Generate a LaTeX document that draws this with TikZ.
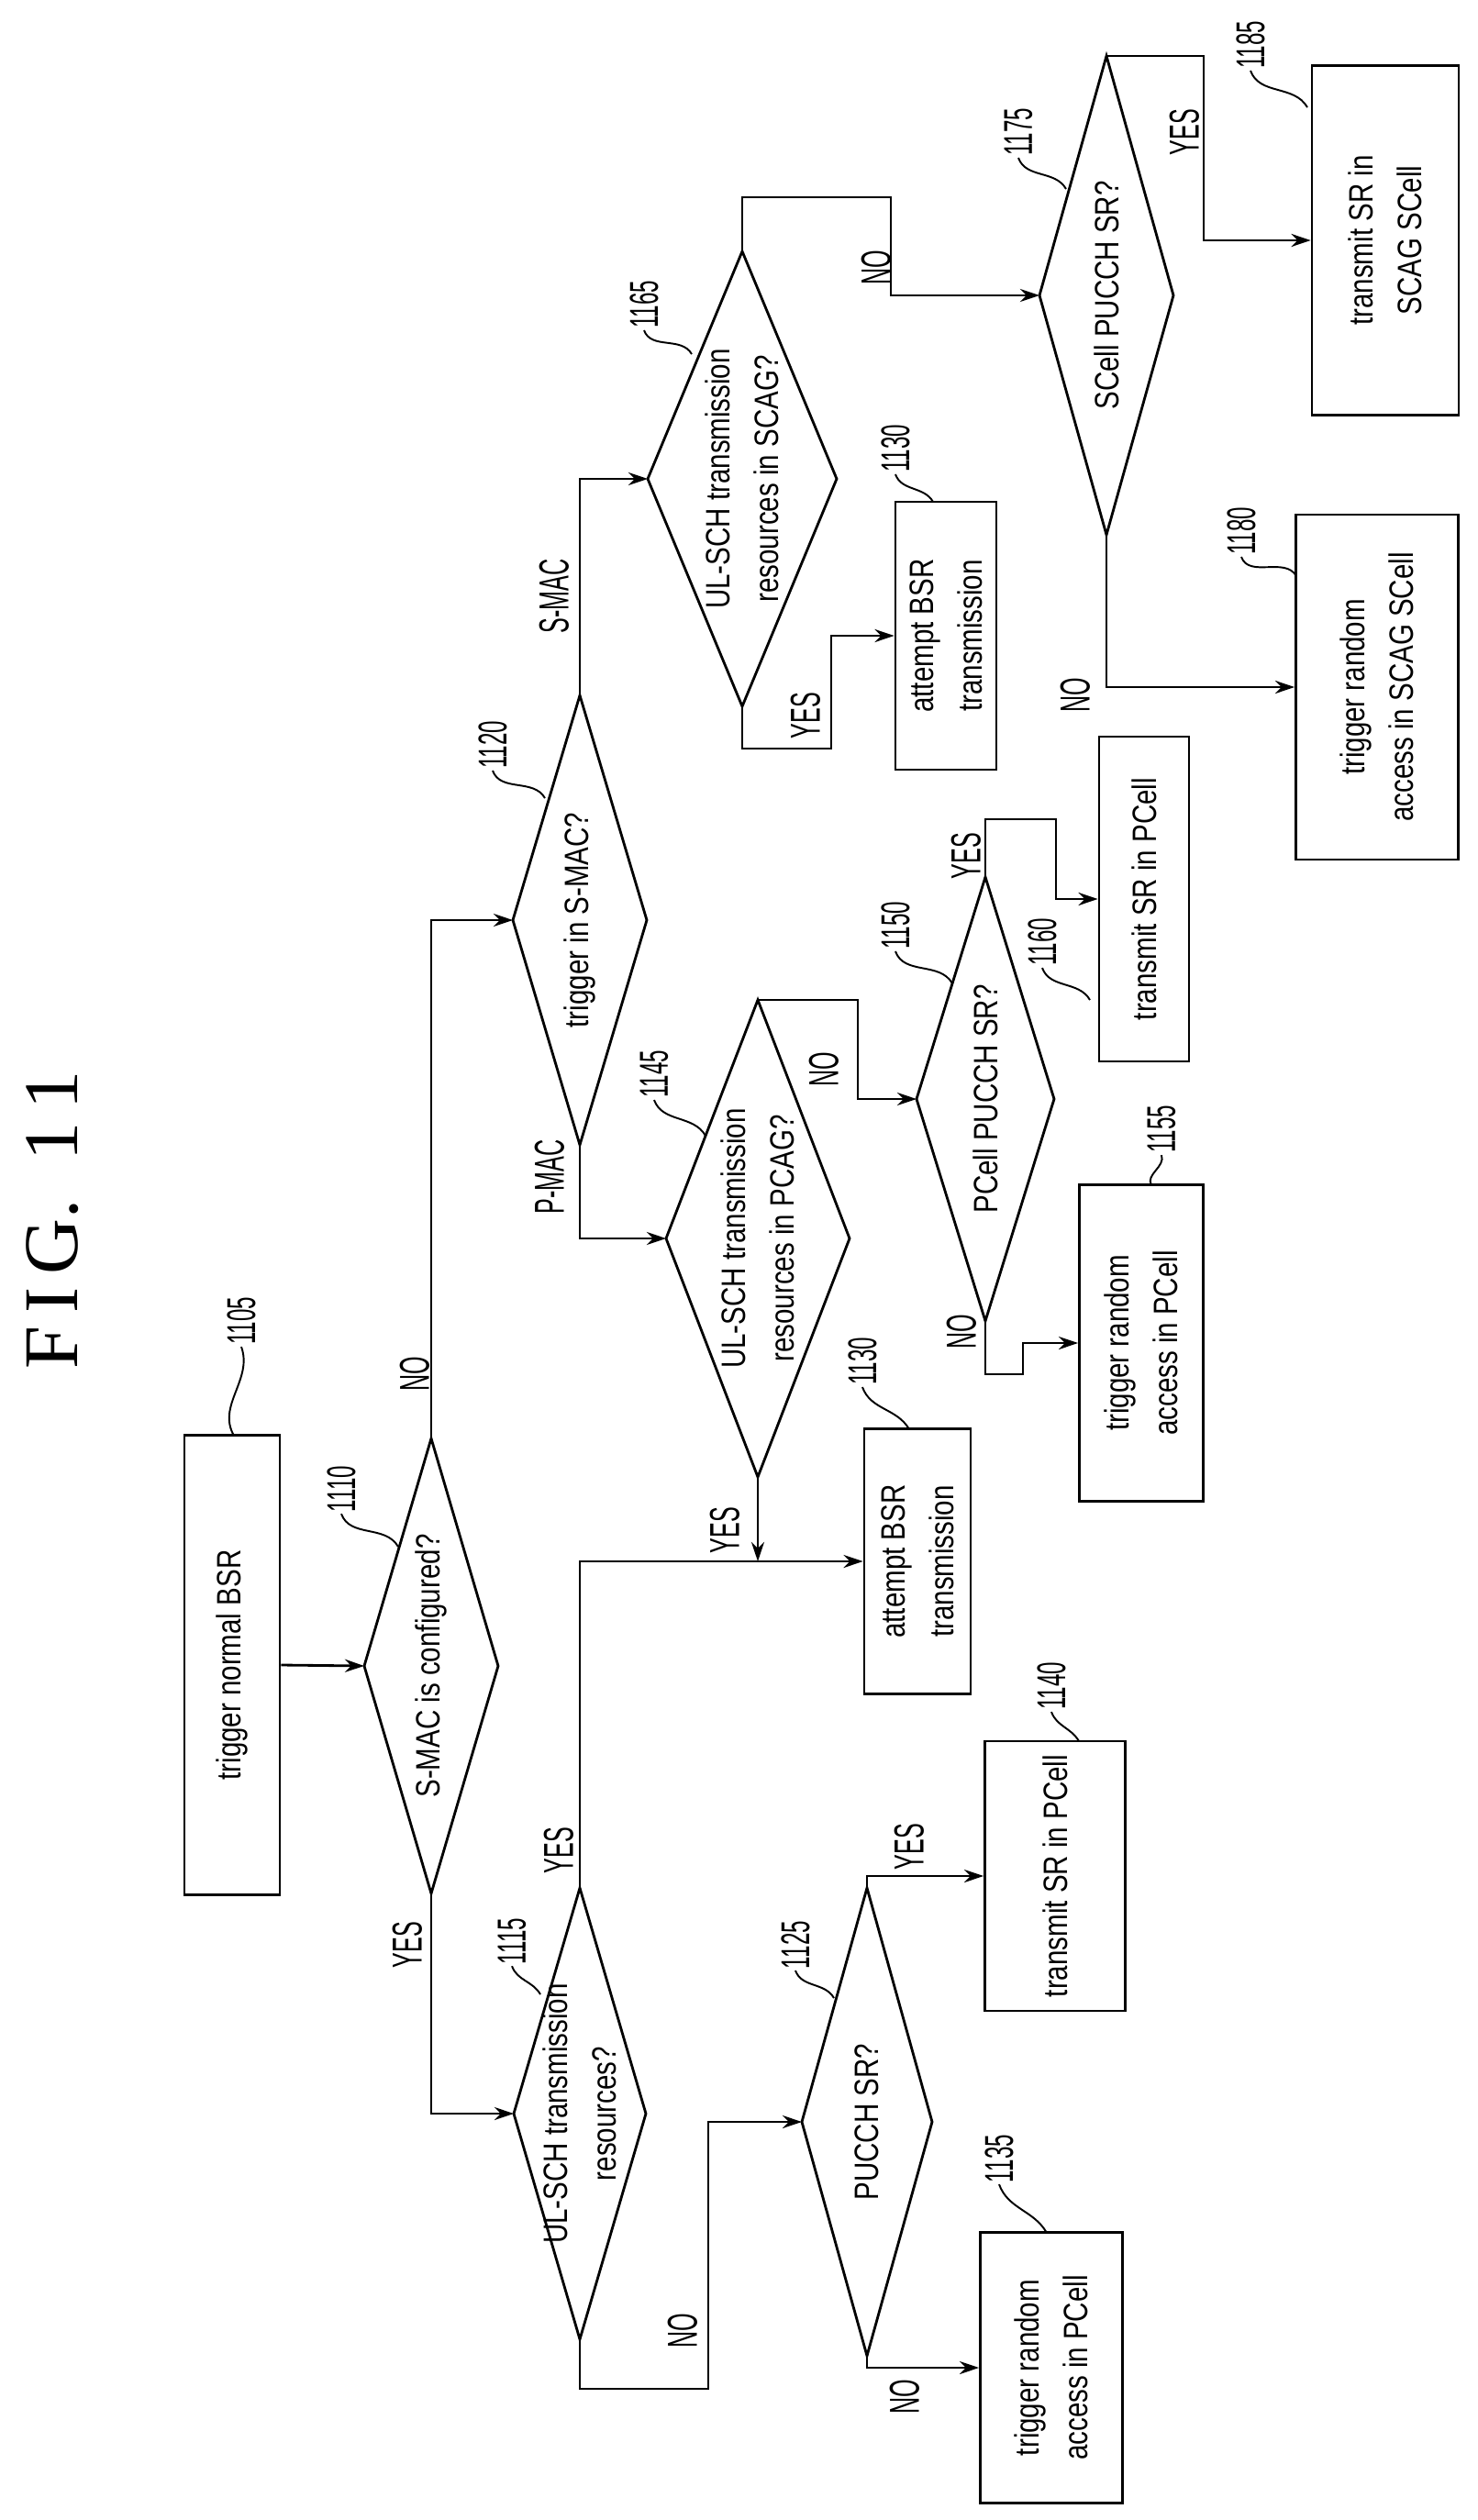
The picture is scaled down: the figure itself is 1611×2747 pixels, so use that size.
\documentclass[tikz,border=0pt]{standalone}
\usepackage{fontspec}
\setmainfont{Liberation Sans}[FakeStretch=0.8]
\newfontfamily\numfont{Liberation Sans}[FakeStretch=0.55]
\newfontfamily\titfont{Liberation Serif}
\usetikzlibrary{arrows.meta}
\newcommand\mydia[6]{%
  \coordinate (#1-t) at (#2,#3-#5);
  \coordinate (#1-b) at (#2,#3+#5);
  \coordinate (#1-l) at (#2-#4,#3);
  \coordinate (#1-r) at (#2+#4,#3);
  \draw[shp] (#1-t)--(#1-r)--(#1-b)--(#1-l)--cycle;
  \node[txt] (#1) at (#2,#3) {#6};}
\newcommand\mybox[6]{%
  \node[shp,draw,rectangle,inner sep=0pt,minimum width=#4*0.02cm,minimum height=#5*0.02cm] (#1) at (#2,#3) {};
  \node[txt] at (#1) {#6};}
\newcommand\mynum[5]{%
  \node[num] (#1) at (#2,#3) {\numfont #1};
  \coordinate (#1-e) at (#4,#5);
  \draw[lead] (#1.west) to[out=-70,in=120] (#1-e);}
\begin{document}
\begin{tikzpicture}[x=0.02cm,y=-0.02cm,
  shp/.style={line width=1.6pt},
  txt/.style={rotate=90,align=center,font=\fontsize{21}{30}\selectfont},
  num/.style={rotate=90,inner sep=1pt,font=\fontsize{25}{25}\selectfont},
  yn/.style={rotate=90,inner sep=1pt,font=\fontsize{26}{26}\selectfont\numfont},
  lead/.style={line width=1.1pt},
  arr/.style={line width=1.6pt,-{Stealth[length=12pt,width=8pt]}},
  ln/.style={line width=1.6pt}]
\useasboundingbox (0,0) rectangle (1611,2747);
\node[rotate=90,font=\fontsize{48}{48}\selectfont\titfont] (title) at (57,1330) {F\,I\,G.\ \ 1\,1};
% boxes
\mybox{b1105}{253}{1815}{104}{501}{trigger normal BSR}
\mybox{b1130a}{1000}{1702}{116}{289}{attempt BSR\\transmission}
\mybox{b1140}{1150}{2045}{153}{294}{transmit SR in PCell}
\mybox{b1135}{1146}{2581}{155}{295}{trigger random\\access in PCell}
\mybox{b1155}{1244}{1464}{135}{345}{trigger random\\access in PCell}
\mybox{b1160}{1247}{980}{98}{354}{transmit SR in PCell}
\mybox{b1130b}{1031}{693}{110}{292}{attempt BSR\\transmission}
\mybox{b1185}{1510}{262}{160}{381}{transmit SR in\\SCAG SCell}
\mybox{b1180}{1501}{749}{177}{376}{trigger random\\access in SCAG SCell}
% diamonds
\mydia{d1110}{470}{1816}{73}{248}{S-MAC is configured?}
\mydia{d1115}{632}{2304}{72}{246}{UL-SCH transmission\\resources?}
\mydia{d1125}{945}{2313}{71}{255}{PUCCH SR?}
\mydia{d1120}{632}{1003}{73}{245}{trigger in S-MAC?}
\mydia{d1145}{826}{1350}{100}{260}{UL-SCH transmission\\resources in PCAG?}
\mydia{d1150}{1074}{1198}{75}{242}{PCell PUCCH SR?}
\mydia{d1165}{809}{522}{103}{248}{UL-SCH transmission\\resources in SCAG?}
\mydia{d1175}{1206}{322}{73}{261}{SCell PUCCH SR?}
% connectors
\draw[arr] (b1105.east) -- (d1110-l);
\draw[arr] (d1110-b) |- (d1115-l);
\draw[arr] (d1110-t) |- (d1120-l);
\draw[arr] (d1115-t) |- (b1130a.west);
\draw[arr] (d1145-b) -- (d1145-b |- b1130a.west);
\draw[arr] (d1115-b) |- (772,2604) |- (d1125-l);
\draw[arr] (d1125-t) |- (b1140.west);
\draw[arr] (d1125-b) |- (b1135.west);
\draw[arr] (d1120-b) |- (d1145-l);
\draw[arr] (d1120-t) |- (d1165-l);
\draw[arr] (d1145-t) -| (935,1198) -- (d1150-l);
\draw[arr] (d1150-t) |- (1151,893) |- (b1160.west);
\draw[arr] (d1150-b) |- (1115,1498) |- (b1155.west);
\draw[arr] (d1165-b) |- (906,816) |- (b1130b.west);
\draw[arr] (d1165-t) |- (971,215) |- (d1175-l);
\draw[arr] (d1175-t) -| (1312,262) -- (b1185.west);
\draw[arr] (d1175-b) |- (b1180.west);
% yes/no labels
\node[yn] (y1) at (444,2120) {YES};
\node[yn] (n1) at (452,1498) {NO};
\node[yn] (y2) at (609,2017) {YES};
\node[yn] (y3) at (790,1668) {YES};
\node[yn] (n2) at (744,2541) {NO};
\node[yn] (y4) at (991,2013) {YES};
\node[yn] (n3) at (986,2613) {NO};
\node[yn] (p1) at (599,1283) {P-MAC};
\node[yn] (s1) at (604,650) {S-MAC};
\node[yn] (n4) at (898,1166) {NO};
\node[yn] (y5) at (1053,933) {YES};
\node[yn] (n5) at (1048,1452) {NO};
\node[yn] (y6) at (878,780) {YES};
\node[yn] (n6) at (955,292) {NO};
\node[yn] (y7) at (1291,144) {YES};
\node[yn] (n7) at (1172,758) {NO};
% reference numbers
\mynum{1105}{263}{1440}{255}{1565}
\mynum{1110}{372}{1623}{434}{1686}
\mynum{1115}{558}{2116}{589}{2174}
\mynum{1125}{867}{2120}{909}{2178}
\mynum{1140}{1146}{1838}{1176}{1898}
\mynum{1135}{1089}{2353}{1141}{2434}
\mynum{1130}{940}{1484}{991}{1558}
\mynum{1120}{537}{812}{594}{870}
\mynum{1145}{713}{1171}{769}{1238}
\mynum{1150}{976}{1009}{1038}{1072}
\mynum{1160}{1136}{1027}{1188}{1090}
\mynum{1155}{1266}{1231}{1255}{1292}
\mynum{1165}{702}{332}{754}{386}
\node[num] (n1130b) at (976,489) {\numfont 1130};
\draw[lead] (n1130b.west) to[out=-70,in=120] (1017,547);
\mynum{1175}{1110}{144}{1162}{206}
\mynum{1185}{1363}{49}{1425}{117}
\mynum{1180}{1353}{579}{1413}{628}
\end{tikzpicture}
\end{document}
